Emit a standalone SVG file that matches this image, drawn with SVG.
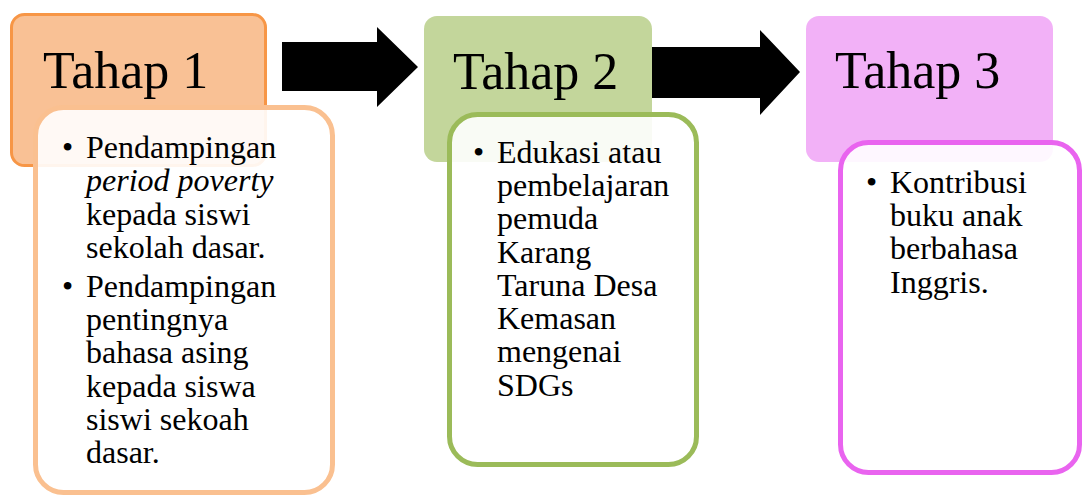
<svg xmlns="http://www.w3.org/2000/svg" width="1082" height="497" viewBox="0 0 1082 497">
<style>
.t{font-family:"Liberation Serif","Times New Roman",serif;fill:#000}
.h{font-size:52px}
.b{font-size:32px}
.inner{fill:#fff;fill-opacity:0.9;stroke-width:5}
</style>
<rect width="1082" height="497" fill="#fff"/>
<g id="connectors">
<polygon points="282,42 377,42 377,27 418,67 377,107 377,91 282,91" fill="#000"/>
<polygon points="640,47 760,47 760,30 800,72 760,115 760,98 640,98" fill="#000"/>
</g>
<g id="tahap1">
<rect x="11.5" y="14.5" width="254" height="151" rx="13" fill="#F9C195" stroke="#F79646" stroke-width="3"/>
<text class="t h" x="43" y="88">Tahap 1</text>
</g>
<g id="tahap1-detail">
<rect class="inner" x="35.5" y="107.5" width="297" height="385" rx="28" stroke="#FAC090"/>
<text class="t b"><tspan x="62" y="158">•</tspan><tspan x="86" y="158">Pendampingan</tspan><tspan x="86" y="191" font-style="italic">period poverty</tspan><tspan x="86" y="225">kepada siswi</tspan><tspan x="86" y="258">sekolah dasar.</tspan><tspan x="62" y="297">•</tspan><tspan x="86" y="297">Pendampingan</tspan><tspan x="86" y="330">pentingnya</tspan><tspan x="86" y="363">bahasa asing</tspan><tspan x="86" y="397">kepada siswa</tspan><tspan x="86" y="430">siswi sekoah</tspan><tspan x="86" y="463">dasar.</tspan></text>
</g>
<g id="tahap2">
<rect x="424" y="16" width="228" height="146" rx="13" fill="#C3D69B"/>
<text class="t h" x="453" y="89">Tahap 2</text>
</g>
<g id="tahap2-detail">
<rect class="inner" x="449.5" y="114.5" width="247" height="350" rx="28" stroke="#9BBB59"/>
<text class="t b"><tspan x="473" y="163">•</tspan><tspan x="497" y="163">Edukasi atau</tspan><tspan x="497" y="196">pembelajaran</tspan><tspan x="497" y="229">pemuda</tspan><tspan x="497" y="263">Karang</tspan><tspan x="497" y="296">Taruna Desa</tspan><tspan x="497" y="329">Kemasan</tspan><tspan x="497" y="362">mengenai</tspan><tspan x="497" y="396">SDGs</tspan></text>
</g>
<g id="tahap3">
<rect x="806" y="16" width="247" height="146" rx="13" fill="#F2B1F7"/>
<text class="t h" x="835" y="88">Tahap 3</text>
</g>
<g id="tahap3-detail">
<rect class="inner" x="840.5" y="142.5" width="239" height="330" rx="28" stroke="#E964EF"/>
<text class="t b"><tspan x="866" y="193">•</tspan><tspan x="890" y="193">Kontribusi</tspan><tspan x="890" y="226">buku anak</tspan><tspan x="890" y="259">berbahasa</tspan><tspan x="890" y="293">Inggris.</tspan></text>
</g>
</svg>
